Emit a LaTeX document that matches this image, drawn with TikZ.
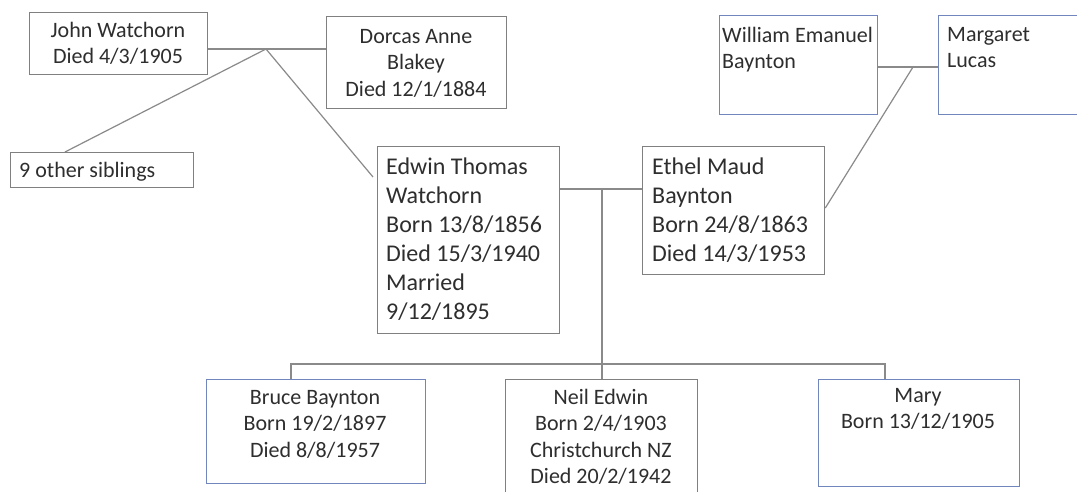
\documentclass[tikz,border=0pt]{standalone}
\usepackage{fontspec}
\setmainfont{Carlito}
\usetikzlibrary{calc}
\definecolor{boxgray}{HTML}{808080}
\definecolor{boxblue}{HTML}{7286BE}
\definecolor{linegray}{HTML}{8A8A8A}
\definecolor{txtcol}{HTML}{2E2E2E}
\newcommand{\smallf}{\fontsize{22}{26.5}\selectfont}
\newcommand{\bigf}{\fontsize{24}{29}\selectfont}
\newcommand{\myL}[1]{\begin{tabular}[t]{@{}l@{}}#1\end{tabular}}
\newcommand{\myC}[1]{\begin{tabular}[t]{@{}c@{}}#1\end{tabular}}
\tikzset{
  gbox/.style={draw=boxgray, line width=1.3pt, inner sep=0pt, anchor=north west},
  bbox/.style={gbox, draw=boxblue},
  ltxt/.style={inner sep=0pt, anchor=base west, text=txtcol, font=\smallf},
  ctxt/.style={inner sep=0pt, anchor=base, text=txtcol, font=\smallf},
  conn/.style={draw=linegray, line width=1.2pt}
}
\begin{document}
\begin{tikzpicture}[x=1pt,y=-1pt]
\useasboundingbox (0,0) rectangle (1077,491);
\clip (0,0) rectangle (1077,491);
\fill[white] (0,0) rectangle (1077,491);

% boxes
\node[gbox, minimum width=178pt, minimum height=62pt] (johnbox) at (29,12) {};
\node[gbox, minimum width=180pt, minimum height=92pt] (dorcasbox) at (326,16) {};
\node[gbox, minimum width=183pt, minimum height=35pt] (sibbox) at (10,152) {};
\node[gbox, minimum width=182pt, minimum height=187pt] (edwinbox) at (377,146) {};
\node[gbox, minimum width=182pt, minimum height=128pt] (ethelbox) at (642,146) {};
\node[bbox, minimum width=158pt, minimum height=99pt] (williambox) at (719,15) {};
\node[bbox, minimum width=160pt, minimum height=99pt] (margaretbox) at (938,15) {};
\node[bbox, minimum width=219pt, minimum height=104pt] (brucebox) at (206,379) {};
\node[gbox, minimum width=192pt, minimum height=125pt] (neilbox) at (505,379) {};
\node[bbox, minimum width=201pt, minimum height=107pt] (marybox) at (818,379) {};

% texts
\node[ctxt] (john) at (118,37) {\myC{John Watchorn\\Died 4/3/1905}};
\node[ctxt] (dorcas) at (416,43) {\myC{Dorcas Anne\\Blakey\\Died 12/1/1884}};
\node[ltxt] (sib) at (19,177) {\myL{9 other siblings}};
\node[ltxt, font=\bigf] (edwin) at (386,174) {\myL{Edwin Thomas\\Watchorn\\Born 13/8/1856\\Died 15/3/1940\\Married\\9/12/1895}};
\node[ltxt, font=\bigf] (ethel) at (652,174) {\myL{Ethel Maud\\Baynton\\Born 24/8/1863\\Died 14/3/1953}};
\node[ltxt] (william) at (722,42) {\myL{William Emanuel\\Baynton}};
\node[ltxt] (margaret) at (947,41) {\myL{Margaret\\Lucas}};
\node[ctxt] (bruce) at (315,404) {\myC{Bruce Baynton\\Born 19/2/1897\\Died 8/8/1957}};
\node[ctxt] (neil) at (601,404) {\myC{Neil Edwin\\Born 2/4/1903\\Christchurch NZ\\Died 20/2/1942}};
\node[ctxt] (mary) at (918,402) {\myC{Mary\\Born 13/12/1905}};

% junction points
\coordinate (j1) at (266,49);
\coordinate (m1) at (602,189);
\coordinate (w1) at (913,67);
\coordinate (b1) at (291,364);
\coordinate (c1) at (885,364);

% connectors
\draw[conn] (johnbox.east |- j1) -- (dorcasbox.west |- j1);
\draw[conn] (j1) -- ($(sibbox.north west)+(55,0)$);
\draw[conn] (j1) -- ($(edwinbox.north west)+(-4,31)$);
\draw[conn] (edwinbox.east |- m1) -- (ethelbox.west |- m1);
\draw[conn] (m1) -- (m1 |- neilbox.north);
\draw[conn] (b1 |- brucebox.north) -- (b1) -- (c1) -- (c1 |- marybox.north);
\draw[conn] (williambox.east |- w1) -- (margaretbox.west |- w1);
\draw[conn] (w1) -- ($(ethelbox.north east)+(0,62)$);
\end{tikzpicture}
\end{document}
